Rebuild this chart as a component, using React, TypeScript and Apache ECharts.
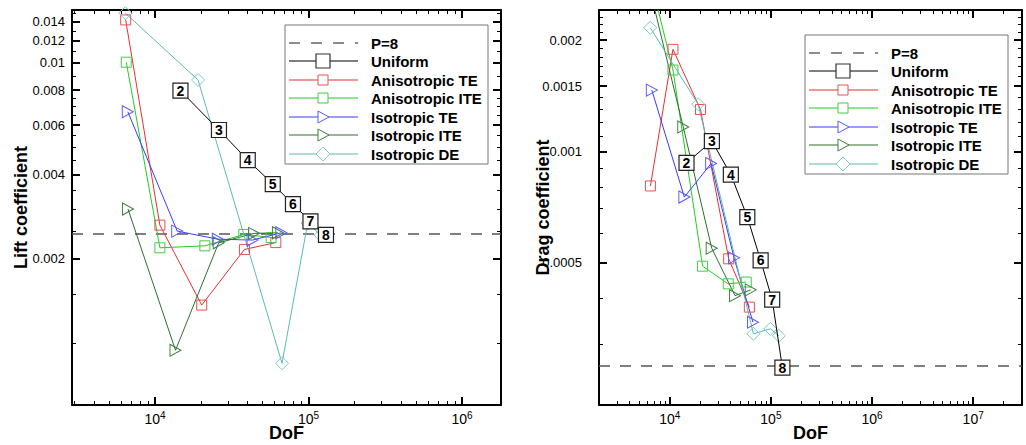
import React, { useEffect, useRef } from "react";
import * as echarts from "echarts";

// ---------------- data ----------------
const UNIFORM_P = [2, 3, 4, 5, 6, 7, 8];
const UNIFORM_DOF = [14650, 26100, 40200, 58500, 79200, 103000, 130000];
const UNIFORM_CL = [0.007963, 0.005764, 0.004504, 0.003698, 0.003136, 0.00272, 0.002434];
const UNIFORM_CD = [0.00093, 0.001065, 0.000865, 0.000664, 0.000507, 0.000397, 0.00026];

const ANISO_TE_DOF = [6440, 10760, 20150, 38260, 61250];
const ANISO_TE_CL = [0.01424, 0.002638, 0.001368, 0.002161, 0.002286];
const ANISO_TE_CD = [0.000806, 0.001887, 0.001297, 0.000512, 0.000379];

const ANISO_ITE_DOF = [6500, 10760, 21130, 37900, 57100];
const ANISO_ITE_CL = [0.01006, 0.00219, 0.002226, 0.002444, 0.002384];
const ANISO_ITE_CD = [0.0029, 0.001659, 0.000489, 0.000438, 0.000443];

const ISO_TE_DOF = [6650, 13950, 25650, 43200, 66500];
const ISO_TE_CL = [0.006697, 0.002512, 0.002351, 0.002334, 0.002478];
const ISO_TE_CD = [0.001464, 0.000752, 0.000927, 0.000515, 0.000345];

const ISO_ITE_DOF = [6670, 13600, 26000, 44200, 63200];
const ISO_ITE_CL = [0.003011, 0.000944, 0.002282, 0.002466, 0.002477];
const ISO_ITE_CD = [0.0026, 0.001164, 0.000547, 0.000407, 0.000422];

const ISO_DE_DOF = [6410, 19080, 67200, 98800, 120000];
const ISO_DE_CL = [0.01505, 0.008696, 0.000848, 0.002683, 0.002431];
const ISO_DE_CD = [0.002159, 0.001341, 0.000321, 0.000331, 0.000317];

const LIFT_REF_P8 = 0.00244;
const DRAG_REF_P8 = 0.000261;

const LEGEND_LABELS = ["P=8", "Uniform", "Anisotropic TE", "Anisotropic ITE", "Isotropic TE", "Isotropic ITE", "Isotropic DE"];

const X_MAJOR = [1e3, 1e4, 1e5, 1e6, 1e7, 1e8];
const LIFT_MAJOR = [0.002, 0.004, 0.006, 0.008, 0.01, 0.012, 0.014];
const DRAG_MAJOR = [0.0005, 0.001, 0.0015, 0.002];

const LEFT_X_RANGE = [2879, 1.795e6];
const LEFT_Y_RANGE = [0.000602, 0.01545];
const RIGHT_X_RANGE = [1998, 3.04e7];
const RIGHT_Y_RANGE = [0.000206, 0.002411];

// ---------------- helpers ----------------
const lg = Math.log10;
const FONT = "Liberation Sans";

const xMinor: number[] = [];
for (let n = 3; n <= 7; n++) for (let k = 2; k <= 9; k++) xMinor.push(k * Math.pow(10, n));

const liftMinor: number[] = [];
for (let i = 2; i <= 30; i++) {
  const v = i * 0.0005;
  const isMajor = LIFT_MAJOR.some((m) => Math.abs(m - v) < 1e-9);
  if (isMajor) continue;
  if (v > 0.008 && i % 2 === 1) continue;
  liftMinor.push(v);
}
const dragMinor: number[] = [];
for (let i = 2; i <= 24; i++) {
  const v = i * 0.0001;
  if (DRAG_MAJOR.some((m) => Math.abs(m - v) < 1e-12)) continue;
  dragMinor.push(v);
}

const C = {
  red: { line: "#e53030", mk: "#ea5050" },
  green: { line: "#22cc22", mk: "#44cc44" },
  blue: { line: "#3a3aff", mk: "#5a5aff" },
  dgreen: { line: "#2e6e2e", mk: "#3f7f3f" },
  cyan: { line: "#5cb8b8", mk: "#7ccaca" },
};

const TRI = "path://M0,0L10,5L0,10Z";

function pts(xs: number[], ys: number[]) {
  return xs.map((x, i) => [lg(x), lg(ys[i])]);
}

function xAxes(gi: number, range: number[], nameGap: number) {
  const base: any = {
    gridIndex: gi,
    type: "value",
    min: lg(range[0]),
    max: lg(range[1]),
    splitLine: { show: false },
    axisLine: { show: true, onZero: false, lineStyle: { color: "#000", width: 2 } },
  };
  const major = X_MAJOR.map(lg);
  const minor = xMinor.map(lg);
  const majorTick = { show: true, inside: true, length: 8, customValues: major, lineStyle: { color: "#000", width: 2 } };
  const minorTick = { show: true, inside: true, length: 4, customValues: minor, lineStyle: { color: "#000", width: 1 } };
  return [
    {
      ...base,
      position: "bottom",
      axisTick: majorTick,
      axisLabel: {
        customValues: major,
        margin: 5,
        formatter: (v: number) => `{b|10}{s|${Math.round(v)}}`,
        rich: {
          b: { fontSize: 14, fontFamily: FONT, color: "#000", lineHeight: 16, verticalAlign: "bottom" },
          s: { fontSize: 10, fontFamily: FONT, color: "#000", lineHeight: 10, verticalAlign: "top" },
        },
      },
      name: "DoF",
      nameLocation: "middle",
      nameGap,
      nameMoveOverlap: false,
      nameTextStyle: { fontSize: 18, fontWeight: "bold", fontFamily: FONT, color: "#000" },
    },
    { ...base, position: "bottom", axisLine: { show: false, onZero: false }, axisTick: minorTick, axisLabel: { show: false } },
    { ...base, position: "top", axisTick: majorTick, axisLabel: { show: false } },
    { ...base, position: "top", axisLine: { show: false, onZero: false }, axisTick: minorTick, axisLabel: { show: false } },
  ];
}

function yAxes(gi: number, range: number[], majorV: number[], minorV: number[], name: string, labelMargin: number, nameGap: number) {
  const base: any = {
    gridIndex: gi,
    type: "value",
    min: lg(range[0]),
    max: lg(range[1]),
    splitLine: { show: false },
    axisLine: { show: true, onZero: false, lineStyle: { color: "#000", width: 2 } },
  };
  const major = majorV.map(lg);
  const minor = minorV.map(lg);
  const majorTick = { show: true, inside: true, length: 8, customValues: major, lineStyle: { color: "#000", width: 2 } };
  const minorTick = { show: true, inside: true, length: 4, customValues: minor, lineStyle: { color: "#000", width: 1 } };
  return [
    {
      ...base,
      position: "left",
      axisTick: majorTick,
      axisLabel: {
        customValues: major,
        margin: labelMargin,
        fontSize: 13,
        fontFamily: FONT,
        color: "#000",
        formatter: (v: number) => String(Number(Math.pow(10, v).toPrecision(2))),
      },
      name,
      nameLocation: "middle",
      nameGap,
      nameMoveOverlap: false,
      nameTextStyle: { fontSize: 18, fontWeight: "bold", fontFamily: FONT, color: "#000" },
    },
    { ...base, position: "left", axisLine: { show: false, onZero: false }, axisTick: minorTick, axisLabel: { show: false } },
    { ...base, position: "right", axisTick: majorTick, axisLabel: { show: false } },
    { ...base, position: "right", axisLine: { show: false, onZero: false }, axisTick: minorTick, axisLabel: { show: false } },
  ];
}

function lineSeries(name: string, gi: number, data: number[][], col: { line: string; mk: string }, symbol: string, size: any) {
  return {
    type: "line",
    name,
    xAxisIndex: gi * 4,
    yAxisIndex: gi * 4,
    data,
    symbol,
    symbolSize: size,
    showSymbol: true,
    showAllSymbol: true,
    lineStyle: { color: col.line, width: 1 },
    itemStyle: { color: "rgba(255,255,255,0)", borderColor: col.mk, borderWidth: 1 },
    emphasis: { disabled: true },
  };
}

function chartSeries(gi: number, which: "CL" | "CD") {
  const isL = which === "CL";
  const ref = isL ? LIFT_REF_P8 : DRAG_REF_P8;
  return [
    lineSeries("Anisotropic TE", gi, pts(ANISO_TE_DOF, isL ? ANISO_TE_CL : ANISO_TE_CD), C.red, "rect", 10),
    lineSeries("Anisotropic ITE", gi, pts(ANISO_ITE_DOF, isL ? ANISO_ITE_CL : ANISO_ITE_CD), C.green, "rect", 10),
    lineSeries("Isotropic TE", gi, pts(ISO_TE_DOF, isL ? ISO_TE_CL : ISO_TE_CD), C.blue, TRI, [11, 12]),
    lineSeries("Isotropic ITE", gi, pts(ISO_ITE_DOF, isL ? ISO_ITE_CL : ISO_ITE_CD), C.dgreen, TRI, [11, 12]),
    lineSeries("Isotropic DE", gi, pts(ISO_DE_DOF, isL ? ISO_DE_CL : ISO_DE_CD), C.cyan, "diamond", [13, 13]),
    {
      type: "line",
      name: "Uniform",
      xAxisIndex: gi * 4,
      yAxisIndex: gi * 4,
      data: pts(UNIFORM_DOF, isL ? UNIFORM_CL : UNIFORM_CD),
      symbol: "rect",
      symbolSize: [15, 15],
      showSymbol: true,
      showAllSymbol: true,
      z: 5,
      lineStyle: { color: "#000", width: 1 },
      itemStyle: { color: "#fff", borderColor: "#222", borderWidth: 1.2 },
      label: {
        show: true,
        position: "inside",
        formatter: (p: any) => String(UNIFORM_P[p.dataIndex]),
        fontSize: 14,
        fontWeight: "bold",
        fontFamily: FONT,
        color: "#000",
      },
      emphasis: { disabled: true },
      markLine: {
        silent: true,
        symbol: ["none", "none"],
        label: { show: false },
        lineStyle: { color: "#555", width: 1.5, type: [11, 10] },
        data: [{ yAxis: lg(ref) }],
        z: 1,
      },
    },
  ];
}

const LEG_ITEMS = [
  { line: "#666", dash: true, marker: "" },
  { line: "#000", marker: "bigbox", mk: "#333" },
  { line: C.red.line, marker: "box", mk: C.red.mk },
  { line: C.green.line, marker: "box", mk: C.green.mk },
  { line: C.blue.line, marker: "tri", mk: C.blue.mk },
  { line: C.dgreen.line, marker: "tri", mk: C.dgreen.mk },
  { line: C.cyan.line, marker: "dia", mk: C.cyan.mk },
];
const LEG_ROWS = [18, 36, 55, 73, 92, 110, 129];

function markerEl(kind: string, cx: number, cy: number, stroke: string) {
  if (kind === "bigbox")
    return { type: "rect", shape: { x: cx - 7, y: cy - 7, width: 14, height: 14 }, style: { fill: "#fff", stroke, lineWidth: 1.2 } };
  if (kind === "box")
    return { type: "rect", shape: { x: cx - 5, y: cy - 5, width: 10, height: 10 }, style: { fill: "#fff", stroke, lineWidth: 1 } };
  if (kind === "tri")
    return { type: "polygon", shape: { points: [[cx - 5, cy - 6], [cx + 6, cy], [cx - 5, cy + 6]] }, style: { fill: "#fff", stroke, lineWidth: 1 } };
  return { type: "polygon", shape: { points: [[cx, cy - 7], [cx + 7, cy], [cx, cy + 7], [cx - 7, cy]] }, style: { fill: "#fff", stroke, lineWidth: 1 } };
}

function legend(x: number, y: number) {
  const children: any[] = [
    { type: "rect", shape: { x, y, width: 203, height: 139 }, style: { fill: "#fff", stroke: "#777", lineWidth: 1 } },
  ];
  LEG_ITEMS.forEach((it: any, i) => {
    const cy = y + LEG_ROWS[i];
    children.push({
      type: "line",
      shape: { x1: x + 4, y1: cy, x2: x + 73, y2: cy },
      style: { stroke: it.line, lineWidth: it.dash ? 1.5 : 1.2, lineDash: it.dash ? [11, 11] : null },
    });
    if (it.marker) children.push(markerEl(it.marker, x + 38, cy, it.mk));
    children.push({
      type: "text",
      x: x + 86,
      y: cy,
      style: { text: LEGEND_LABELS[i], font: `bold 15px "${FONT}"`, fill: "#000", verticalAlign: "middle", align: "left" },
    });
  });
  return { type: "group", z: 100, children };
}

export default function App() {
  const ref = useRef<HTMLDivElement>(null);
  useEffect(() => {
    if (!ref.current) return;
    const chart = echarts.init(ref.current, null, { renderer: "svg" });
    const option: any = {
      animation: false,
      backgroundColor: "#fff",
      grid: [
        { left: 72, top: 10, width: 429, height: 395, containLabel: false, outerBoundsMode: "none" },
        { left: 599, top: 10, width: 423, height: 395, containLabel: false, outerBoundsMode: "none" },
      ],
      xAxis: [...xAxes(0, LEFT_X_RANGE, 19), ...xAxes(1, RIGHT_X_RANGE, 19)],
      yAxis: [
        ...yAxes(0, LEFT_Y_RANGE, LIFT_MAJOR, liftMinor, "Lift coefficient", 7, 42),
        ...yAxes(1, RIGHT_Y_RANGE, DRAG_MAJOR, dragMinor, "Drag coefficient", 17, 47),
      ],
      series: [...chartSeries(0, "CL"), ...chartSeries(1, "CD")],
      graphic: [legend(285, 25), legend(805, 35)],
    };
    chart.setOption(option);
    return () => chart.dispose();
  }, []);
  return <div ref={ref} style={{ position: "fixed", left: 0, top: 0, width: 1026, height: 445, background: "#fff" }} />;
}
